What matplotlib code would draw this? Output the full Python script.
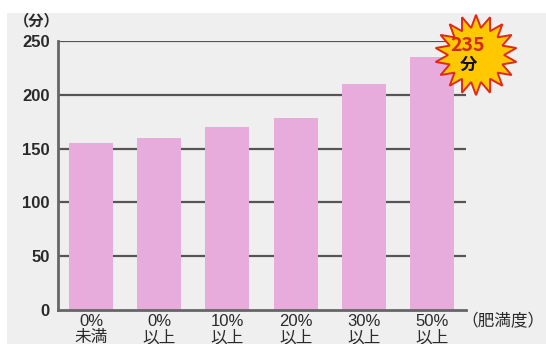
import numpy as np
import matplotlib
matplotlib.use("Agg")
import matplotlib.pyplot as plt
from matplotlib.patches import Rectangle, Polygon

plt.rcParams['font.family'] = ['Liberation Sans', 'Noto Sans CJK JP', 'DejaVu Sans']
cjk = ['Noto Sans CJK JP', 'DejaVu Sans']

# minutes by obesity degree
categories = ['0%\n未満', '0%\n以上', '10%\n以上', '20%\n以上', '30%\n以上', '50%\n以上']
minutes = [155, 160, 170, 178, 210, 235]
yticks = [0, 50, 100, 150, 200, 250]
highlight = minutes[-1]

bar_color = '#e8acdc'
grid_color = '#555555'
bg_color = '#efefef'
text_color = '#2a2a2a'

W, H = 546, 344
fig = plt.figure(figsize=(W / 100, H / 100), dpi=100)
fig.patch.set_facecolor('white')
# light gray panel behind everything
fig.patches.append(Rectangle((7 / W, 0), 1 - 7 / W, (H - 13) / H,
                             transform=fig.transFigure, facecolor=bg_color,
                             edgecolor='none', zorder=-5))

ax = fig.add_axes([58 / W, (H - 310) / H, (466 - 58) / W, (310 - 41) / H])
ax.set_facecolor('none')
ax.set_zorder(2)

x = np.arange(len(categories))
ax.bar(x, minutes, width=0.645, color=bar_color, zorder=3)

ax.set_ylim(0, 250)
ax.set_xlim(-0.484, 5.498)
ax.set_yticks(yticks)
ax.set_yticklabels([str(v) for v in yticks], fontsize=12, fontweight='bold',
                   color=text_color)
ax.set_xticks(x)
ax.set_xticklabels(categories, fontsize=12, color=text_color,
                   linespacing=1.05, va='top')
ax.tick_params(axis='both', length=0)
ax.tick_params(axis='y', pad=6)
ax.tick_params(axis='x', pad=3)

for v in yticks[1:]:
    ax.axhline(v, color=grid_color, lw=1.6, zorder=1)

for side in ['top', 'right']:
    ax.spines[side].set_visible(False)
for side in ['left', 'bottom']:
    ax.spines[side].set_color('#666666')
    ax.spines[side].set_linewidth(2.0)
    ax.spines[side].set_zorder(4)

fig.text(37 / W, (H - 20) / H, '（分）', fontsize=11, fontweight='bold',
         color=text_color, ha='center', va='center', family=cjk)
fig.text(503 / W, (H - 322) / H, '（肥満度）', fontsize=12, color=text_color,
         ha='center', va='center', family=cjk)

# starburst callout next to the tallest bar
fig.canvas.draw()
cx, cy = ax.transData.transform((5.645, highlight + 2))
n_spikes = 18
ang = np.linspace(0, 2 * np.pi, 2 * n_spikes, endpoint=False) + np.pi / 2
rad = np.where(np.arange(2 * n_spikes) % 2 == 0, 41, 28)
verts = np.column_stack([cx + rad * np.cos(ang), cy + rad * np.sin(ang) * 0.98])
star = Polygon(verts, closed=True, facecolor='#ffc800', edgecolor='#e02818',
               lw=1.4, transform=None, zorder=10)
fig.patches.append(star)
fig.text((cx - 8) / W, (cy + 9) / H, str(highlight), fontsize=14, fontweight='bold',
         color='#d42a1a', ha='center', va='center', zorder=11, family=cjk)
fig.text((cx - 8) / W, (cy - 10) / H, '分', fontsize=12.5, fontweight='bold',
         color='#111111', ha='center', va='center', zorder=11, family=cjk)

fig.savefig('out.png', dpi=100)
